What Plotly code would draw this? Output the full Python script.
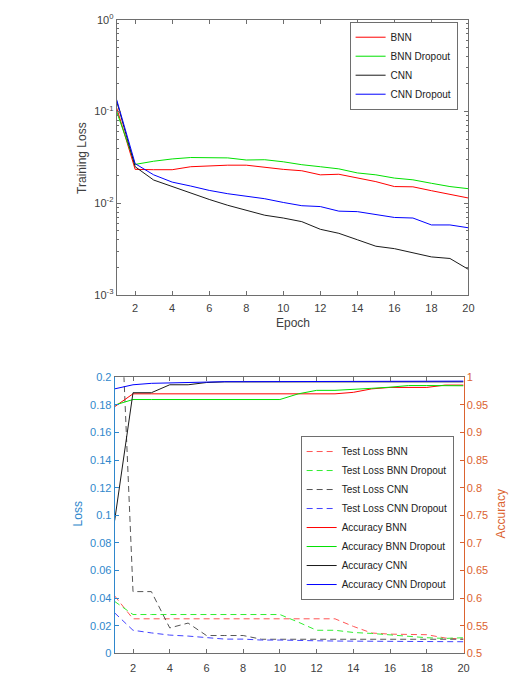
import plotly.graph_objects as go

# ---------------- data ----------------
epochs = list(range(1, 21))

train_bnn = [0.110, 0.0234, 0.0232, 0.0232, 0.0250, 0.0257, 0.0260, 0.0260, 0.0245, 0.0234,
             0.0226, 0.0204, 0.0207, 0.0188, 0.0172, 0.0152, 0.0151, 0.0137, 0.0124, 0.0114]
train_bnn_do = [0.100, 0.0265, 0.0287, 0.0304, 0.0315, 0.0315, 0.0312, 0.0296, 0.0298, 0.0283,
                0.0263, 0.0250, 0.0237, 0.0214, 0.0204, 0.0188, 0.0180, 0.0165, 0.0152, 0.0144]
train_cnn = [0.130, 0.0250, 0.0179, 0.0152, 0.0130, 0.0110, 0.0095, 0.0084, 0.0074, 0.0069,
             0.0063, 0.0052, 0.0047, 0.0040, 0.0034, 0.0032, 0.0029, 0.0026, 0.0025, 0.0019]
train_cnn_do = [0.135, 0.0270, 0.0204, 0.0170, 0.0154, 0.0138, 0.0127, 0.0120, 0.0112, 0.0102,
                0.0094, 0.0092, 0.0082, 0.0081, 0.0076, 0.0070, 0.0069, 0.0058, 0.0058, 0.0054]

test_bnn = [0.0417, 0.0251, 0.0251, 0.0251, 0.0251, 0.0251, 0.0251, 0.0251, 0.0251, 0.0251,
            0.0251, 0.0251, 0.0251, 0.0196, 0.0148, 0.0140, 0.0138, 0.0136, 0.0112, 0.0104]
test_bnn_do = [0.0377, 0.0282, 0.0282, 0.0282, 0.0282, 0.0282, 0.0282, 0.0282, 0.0282, 0.0282,
               0.0227, 0.0168, 0.0168, 0.0152, 0.0145, 0.0133, 0.0121, 0.0114, 0.0109, 0.0114]
test_cnn = [0.360, 0.0448, 0.0448, 0.0185, 0.0220, 0.0130, 0.0130, 0.0130, 0.0103, 0.0103,
            0.0103, 0.0103, 0.0103, 0.0103, 0.0103, 0.0103, 0.0103, 0.0103, 0.0103, 0.0103]
test_cnn_do = [0.0294, 0.0168, 0.0149, 0.0133, 0.0126, 0.0114, 0.0104, 0.0104, 0.0097, 0.0097,
               0.0092, 0.0092, 0.0090, 0.0090, 0.0088, 0.0088, 0.0088, 0.0086, 0.0085, 0.0085]

acc_bnn = [0.9467, 0.970, 0.970, 0.970, 0.970, 0.970, 0.970, 0.970, 0.970, 0.970,
           0.970, 0.970, 0.970, 0.9727, 0.979, 0.9816, 0.9816, 0.9816, 0.9858, 0.9858]
acc_bnn_do = [0.9496, 0.9597, 0.9597, 0.9597, 0.9597, 0.9597, 0.9597, 0.9597, 0.9597, 0.9597,
              0.970, 0.9763, 0.9763, 0.9787, 0.980, 0.982, 0.985, 0.985, 0.985, 0.9846]
acc_cnn = [0.7405, 0.972, 0.972, 0.9864, 0.9864, 0.9905, 0.9917, 0.9917, 0.9917, 0.9917,
           0.9917, 0.9917, 0.9917, 0.9917, 0.9917, 0.9917, 0.9917, 0.9917, 0.9917, 0.9917]
acc_cnn_do = [0.979, 0.9864, 0.989, 0.990, 0.9905, 0.992, 0.992, 0.992, 0.992, 0.992,
              0.992, 0.992, 0.992, 0.992, 0.992, 0.993, 0.993, 0.993, 0.993, 0.993]

x_ticks = [2, 4, 6, 8, 10, 12, 14, 16, 18, 20]
log_tickvals = [0.001, 0.01, 0.1, 1]
log_ticktext = ["10<sup>-3</sup>", "10<sup>-2</sup>", "10<sup>-1</sup>", "10<sup>0</sup>"]

# ---------------- style ----------------
RED, GREEN, BLACK, BLUE = "#FF0000", "#00E000", "#1a1a1a", "#0000FF"
TXT = "#404040"
AXC = "#6e6e6e"
LBLUE = "#2f87cc"
ORANGE = "#DB6330"
FONT = "Liberation Sans, Arial, sans-serif"
W, H = 514, 682

fig = go.Figure()

# top chart
for name, ys, c in [("BNN", train_bnn, RED), ("BNN Dropout", train_bnn_do, GREEN),
                    ("CNN", train_cnn, BLACK), ("CNN Dropout", train_cnn_do, BLUE)]:
    fig.add_trace(go.Scatter(x=epochs, y=ys, name=name, mode="lines",
                             line=dict(color=c, width=1), xaxis="x", yaxis="y",
                             legend="legend"))

# bottom chart: test losses (left axis)
DASH = "6px,4px"
for name, ys, c in [("Test Loss BNN", test_bnn, "#ff5555"), ("Test Loss BNN Dropout", test_bnn_do, "#33ee33"),
                    ("Test Loss CNN", test_cnn, "#555555"), ("Test Loss CNN Dropout", test_cnn_do, "#4444ff")]:
    fig.add_trace(go.Scatter(x=epochs, y=ys, name=name, mode="lines",
                             line=dict(color=c, width=1, dash=DASH), xaxis="x2", yaxis="y2",
                             legend="legend2"))
# accuracies (right axis)
for name, ys, c in [("Accuracy BNN", acc_bnn, RED), ("Accuracy BNN Dropout", acc_bnn_do, GREEN),
                    ("Accuracy CNN", acc_cnn, BLACK), ("Accuracy CNN Dropout", acc_cnn_do, BLUE)]:
    fig.add_trace(go.Scatter(x=epochs, y=ys, name=name, mode="lines",
                             line=dict(color=c, width=1), xaxis="x2", yaxis="y3",
                             legend="legend2"))

def px_x(p):
    return p / W

def px_y(p):
    return 1 - p / H

tickfont = dict(family=FONT, size=11, color=TXT)
minor_log = [m * 10.0 ** e for e in (-3, -2, -1) for m in range(2, 10)]

fig.update_layout(
    width=W, height=H, margin=dict(l=0, r=0, t=0, b=0),
    paper_bgcolor="white", plot_bgcolor="white",
    font=dict(family=FONT, size=11, color=TXT),
    showlegend=True,
    xaxis=dict(domain=[px_x(118), px_x(474)], anchor="y", range=[1, 20],
               tickvals=x_ticks, ticks="inside", ticklen=4, tickcolor=AXC,
               showline=True, linecolor=AXC, linewidth=1, mirror="ticks",
               showgrid=False, zeroline=False, tickfont=tickfont, ticklabelstandoff=3),
    yaxis=dict(domain=[px_y(293), px_y(12)], anchor="x", type="log", range=[-3, 0],
               tickvals=log_tickvals, ticktext=log_ticktext, ticks="inside", ticklen=4,
               tickcolor=AXC, showline=True, linecolor=AXC, linewidth=1, mirror="ticks",
               showgrid=False, zeroline=False, tickfont=tickfont,
               minor=dict(tickvals=minor_log, ticks="inside", ticklen=2, tickcolor=AXC, showgrid=False)),
    xaxis2=dict(domain=[px_x(116), px_x(469)], anchor="y2", range=[1, 20],
                tickvals=x_ticks, ticks="inside", ticklen=4, tickcolor=AXC,
                showline=True, linecolor=AXC, linewidth=1, mirror="ticks",
                showgrid=False, zeroline=False, tickfont=tickfont, ticklabelstandoff=4),
    yaxis2=dict(domain=[px_y(659), px_y(377)], anchor="x2", range=[0, 0.2], dtick=0.02,
                tickformat="~g", ticks="inside", ticklen=4, tickcolor=LBLUE,
                showline=True, linecolor=LBLUE, linewidth=1,
                showgrid=False, zeroline=False,
                tickfont=dict(family=FONT, size=11, color=LBLUE)),
    yaxis3=dict(overlaying="y2", anchor="x2", side="right", range=[0.5, 1], dtick=0.05,
                tickformat="~g", ticks="inside", ticklen=4, tickcolor=ORANGE,
                showline=True, linecolor=ORANGE, linewidth=1,
                showgrid=False, zeroline=False,
                tickfont=dict(family=FONT, size=11, color=ORANGE)),
    legend=dict(x=px_x(463), y=px_y(14), xanchor="right", yanchor="top",
                bgcolor="white", bordercolor=AXC, borderwidth=1,
                font=dict(family=FONT, size=10, color="#222"), itemwidth=30,
                tracegroupgap=0),
    legend2=dict(x=px_x(459), y=px_y(437), xanchor="right", yanchor="top",
                 bgcolor="white", bordercolor=AXC, borderwidth=1,
                 font=dict(family=FONT, size=10, color="#222"), itemwidth=30,
                 tracegroupgap=0),
    annotations=[
        dict(text="Training Loss", x=px_x(83), y=px_y(153), xref="paper", yref="paper",
             xanchor="center", yanchor="middle",
             textangle=-90, showarrow=False, font=dict(family=FONT, size=12, color=TXT)),
        dict(text="Epoch", x=px_x(296), y=px_y(322), xref="paper", yref="paper",
             xanchor="center", yanchor="middle",
             showarrow=False, font=dict(family=FONT, size=12, color=TXT)),
        dict(text="Loss", x=px_x(79), y=px_y(517), xref="paper", yref="paper",
             xanchor="center", yanchor="middle",
             textangle=-90, showarrow=False, font=dict(family=FONT, size=12, color=LBLUE)),
        dict(text="Accuracy", x=px_x(507), y=px_y(517), xref="paper", yref="paper",
             xanchor="center", yanchor="middle",
             textangle=-90, showarrow=False, font=dict(family=FONT, size=12, color=ORANGE)),
    ],
)

fig.write_html("out.html")
